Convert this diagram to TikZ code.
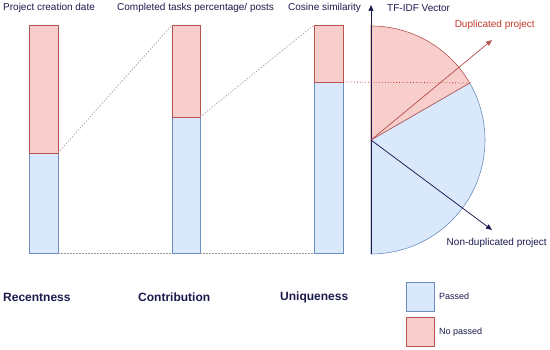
\documentclass[tikz,border=0pt]{standalone}
\usepackage{fontspec}
\setmainfont{Liberation Sans}
\usetikzlibrary{arrows.meta,calc}

\definecolor{passfill}{HTML}{DAE8FC}
\definecolor{passline}{HTML}{6C8EBF}
\definecolor{failfill}{HTML}{F8CECC}
\definecolor{failline}{HTML}{B85450}
\definecolor{inkblue}{HTML}{1A1A4E}
\definecolor{inkred}{HTML}{C0392B}

\tikzset{
  passed/.style={fill=passfill, draw=passline, line width=0.6pt},
  failed/.style={fill=failfill, draw=failline, line width=0.6pt},
  guide/.style={draw=gray!80, dash pattern=on 1.5pt off 1.5pt, line width=0.6pt},
  caption/.style={text=inkblue, font=\fontsize{10}{12}\selectfont, inner sep=0pt},
  criterion/.style={text=inkblue, font=\fontsize{12}{14}\selectfont\bfseries, inner sep=0pt, anchor=west},
  tip/.style={-{Triangle[length=6pt,width=5pt]}, line width=0.7pt}
}

\begin{document}
\begin{tikzpicture}[x=1pt,y=1pt]

\useasboundingbox (0,0) rectangle (550,350);

\coordinate (recentness-bottom-left) at (29,97);
\coordinate (recentness-split-right) at (58,197);
\coordinate (recentness-split-left) at (29,197);
\coordinate (recentness-top-right) at (58,325);
\coordinate (recentness-bottom-right) at (58,97);

\coordinate (contribution-bottom-left) at (172,97);
\coordinate (contribution-split-right) at (200,233);
\coordinate (contribution-split-left) at (172,233);
\coordinate (contribution-top-right) at (200,325);
\coordinate (contribution-top-left) at (172,325);
\coordinate (contribution-bottom-right) at (200,97);

\coordinate (uniqueness-bottom-left) at (314,97);
\coordinate (uniqueness-split-right) at (343,268);
\coordinate (uniqueness-split-left) at (314,268);
\coordinate (uniqueness-top-right) at (343,325);
\coordinate (uniqueness-top-left) at (314,325);

\coordinate (origin) at (371,210);
\coordinate (axis-bottom) at (371,96);
\coordinate (axis-top) at (371,345);
\coordinate (threshold) at ($(origin)+(30:114)$);
\coordinate (duplicated-tip) at (492,310);
\coordinate (non-duplicated-tip) at (492,120);

% bars
\draw [passed] (recentness-bottom-left) rectangle (recentness-split-right);
\draw [failed] (recentness-split-left) rectangle (recentness-top-right);
\draw [passed] (contribution-bottom-left) rectangle (contribution-split-right);
\draw [failed] (contribution-split-left) rectangle (contribution-top-right);
\draw [passed] (uniqueness-bottom-left) rectangle (uniqueness-split-right);
\draw [failed] (uniqueness-split-left) rectangle (uniqueness-top-right);

% links between bars
\draw [guide] (recentness-split-right) -- (contribution-top-left);
\draw [guide] (contribution-split-right) -- (uniqueness-top-left);
\draw [guide] (recentness-bottom-right) -- (contribution-bottom-left);
\draw [guide] (contribution-bottom-right) -- (uniqueness-bottom-left);

% half disc
\draw [passed] (origin) -- (axis-bottom) arc (-90:30:114) -- cycle;
\draw [failed] (origin) -- (threshold) arc (30:90:114) -- cycle;
\draw [draw=inkred, dotted, line width=0.8pt] (uniqueness-split-right) -- (threshold);

\draw [tip, draw=inkblue, fill=inkblue] (axis-bottom) -- (axis-top);
\draw [tip, draw=failline, fill=failline] (origin) -- (duplicated-tip);
\draw [tip, draw=inkblue, fill=inkblue] (origin) -- (non-duplicated-tip);

\node [caption, anchor=west] (creation-date) at (3,342) {Project creation date};
\node [caption, anchor=west] (tasks-posts) at (117,342) {Completed tasks percentage/ posts};
\node [caption, anchor=west] (cosine) at (288,342) {Cosine similarity};
\node [caption, anchor=west] (tf-idf) at (387,342) {TF-IDF Vector};
\node [caption, anchor=east, text=inkred] (duplicated) at (535,325) {Duplicated project};
\node [caption, anchor=east] (non-duplicated) at (547,107) {Non-duplicated project};

\node [criterion] (recentness) at (3,53) {Recentness};
\node [criterion] (contribution) at (138,53) {Contribution};
\node [criterion] (uniqueness) at (280,53) {Uniqueness};

% legend
\draw [passed] (406,39) rectangle (434,68);
\draw [failed] (406,4) rectangle (434,33);
\node [caption, anchor=west, font=\fontsize{9}{11}\selectfont] (passed-label) at (439,54) {Passed};
\node [caption, anchor=west, font=\fontsize{9}{11}\selectfont] (failed-label) at (439,18) {No passed};

\end{tikzpicture}
\end{document}
